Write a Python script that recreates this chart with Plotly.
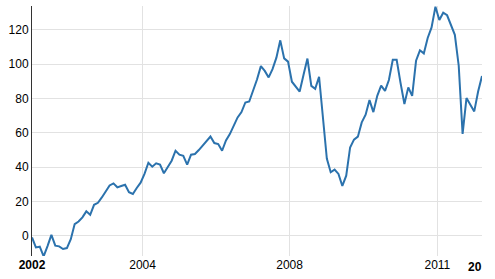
import plotly.graph_objects as go

values = [-1, -6.8, -6.4, -12, -6, 0.5, -5.8, -6.2, -7.7, -7.2,
          -2, 6.8, 8.3, 10.7, 14.2, 12.2, 18, 19.2, 22.3, 25.8,
          29.3, 30.5, 28.2, 29, 29.7, 25.4, 24.3, 27.8, 30.9, 36,
          42.5, 40.2, 42.2, 41.4, 36.4, 40, 43.7, 49.5, 47.2, 46.6,
          41.4, 47.2, 47.6, 49.9, 52.6, 55.3, 57.8, 54, 53.4, 49.5,
          55.5, 59.2, 64, 68.9, 72, 77.6, 78.2, 84, 91, 98.8,
          96, 92.2, 97, 103.7, 113.8, 103.3, 101.4, 89.7, 86.8, 84,
          93.7, 103.2, 87.3, 85.6, 92.6, 70, 45, 37, 38.5, 36,
          29, 35, 51.4, 56, 57.7, 66, 70.5, 79, 72, 81.5,
          87.4, 84.4, 90.7, 102.5, 102.5, 89, 76.7, 86.4, 81.5, 101.9,
          108, 106.2, 115.2, 121.3, 133.4, 125.6, 129.9, 128.4, 123, 117,
          99, 59.3, 80.2, 76.3, 72.4, 84, 93]
months = list(range(len(values)))

x_tick_pos = [0, 28.5, 66.4, 104.5]
x_tick_text = ["<b>2002</b>", "2004", "2008", "2011"]
extra_label_pos = 114.1
extra_label_text = "<b>20</b>"
y_ticks = [0, 20, 40, 60, 80, 100, 120]

fig = go.Figure()
fig.add_trace(go.Scatter(x=months, y=values, mode="lines",
                         line=dict(color="#2b72ad", width=2), hoverinfo="skip"))

fig.add_annotation(x=extra_label_pos, y=0, xref="x", yref="paper",
                   yanchor="top", yshift=-2, text=extra_label_text, showarrow=False,
                   font=dict(family="Liberation Sans, Arial", size=12, color="#000"))

fig.update_layout(
    width=495, height=279,
    margin=dict(l=32, r=13, t=6, b=23),
    paper_bgcolor="white", plot_bgcolor="white",
    showlegend=False,
    font=dict(family="Liberation Sans, Arial", size=12, color="#000"),
    xaxis=dict(range=[0, 116], tickvals=x_tick_pos, ticktext=x_tick_text,
               showgrid=True, gridcolor="#e2e2e2", gridwidth=1,
               zeroline=False, showline=False, ticks="", ticklen=0),
    yaxis=dict(range=[-11.8, 133.8], tickvals=y_ticks,
               showgrid=True, gridcolor="#e2e2e2", gridwidth=1,
               zeroline=False, showline=True, linecolor="#333", linewidth=1,
               ticks="", ticklen=0),
)
fig.write_html("out.html")
